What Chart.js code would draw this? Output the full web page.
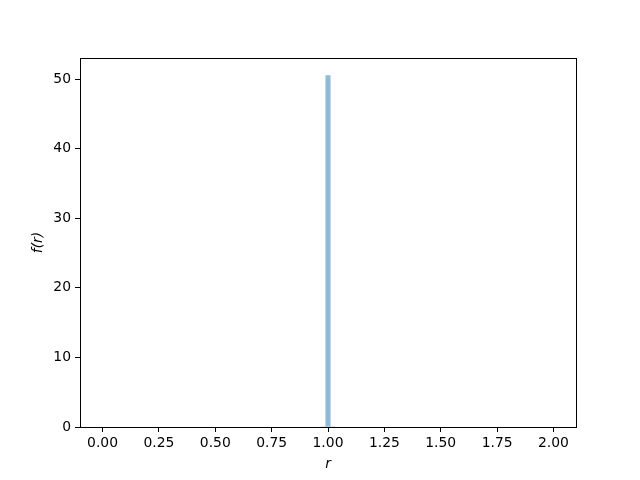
<!DOCTYPE html>
<html>
<head>
<meta charset="utf-8">
<script src="https://cdn.jsdelivr.net/npm/chart.js@4"></script>
<style>
  html, body { margin: 0; padding: 0; background: #fff; }
  #wrap { width: 640px; height: 480px; }
</style>
</head>
<body>
<div id="wrap"><canvas id="c" width="640" height="480"></canvas></div>
<script>
// histogram (density) of r, 101 bins over [0, 2]; only the bin around r = 1 is filled
const binCenters = [0.9802, 1.0, 1.0198]
const density = [0, 50.5, 0]
const xRange = [-0.1, 2.1]
const yRange = [0, 53.025]

const font = { family: 'DejaVu Sans', size: 13.9 }

// full box around the plot area, like matplotlib spines
const frame = {
  id: 'frame',
  afterDraw(chart) {
    const { ctx, chartArea: a } = chart
    ctx.save()
    ctx.strokeStyle = '#000'
    ctx.lineWidth = 1
    ctx.strokeRect(Math.round(a.left) + 0.5, Math.round(a.top) + 0.5,
      Math.round(a.right - a.left), Math.round(a.bottom - a.top))
    ctx.restore()
  }
}

new Chart(document.getElementById('c'), {
  type: 'bar',
  data: {
    datasets: [{
      data: binCenters.map((x, i) => ({ x, y: density[i] })),
      backgroundColor: 'rgba(31,119,180,0.5)',
      borderWidth: 0,
      barPercentage: 1,
      categoryPercentage: 1
    }]
  },
  options: {
    responsive: false,
    animation: false,
    devicePixelRatio: 1,
    layout: { padding: { left: 30, right: 64, top: 58, bottom: 0 } },
    plugins: { legend: { display: false }, tooltip: { enabled: false } },
    scales: {
      x: {
        type: 'linear',
        min: xRange[0],
        max: xRange[1],
        offset: false,
        afterFit: (s) => { s.height = 53 },
        grid: { display: true, offset: false, drawOnChartArea: false, drawTicks: true, tickLength: 5, tickColor: '#000' },
        border: { display: true, color: '#000' },
        ticks: {
          stepSize: 0.25,
          includeBounds: false,
          color: '#000',
          font,
          padding: 3,
          maxRotation: 0,
          autoSkip: false,
          callback: (v) => v.toFixed(2)
        },
        title: {
          display: true,
          text: 'r',
          color: '#000',
          font: { ...font, style: 'italic' },
          padding: { top: 2, bottom: 7 }
        }
      },
      y: {
        min: yRange[0],
        max: yRange[1],
        afterFit: (s) => { s.width = 50 },
        grid: { display: true, offset: false, drawOnChartArea: false, drawTicks: true, tickLength: 5, tickColor: '#000' },
        border: { display: true, color: '#000' },
        ticks: {
          stepSize: 10,
          includeBounds: false,
          color: '#000',
          font,
          padding: 4
        },
        title: {
          display: true,
          text: 'f(r)',
          color: '#000',
          font: { ...font, style: 'italic' },
          padding: { top: 0, bottom: 6 }
        }
      }
    }
  },
  plugins: [frame]
})
</script>
</body>
</html>
